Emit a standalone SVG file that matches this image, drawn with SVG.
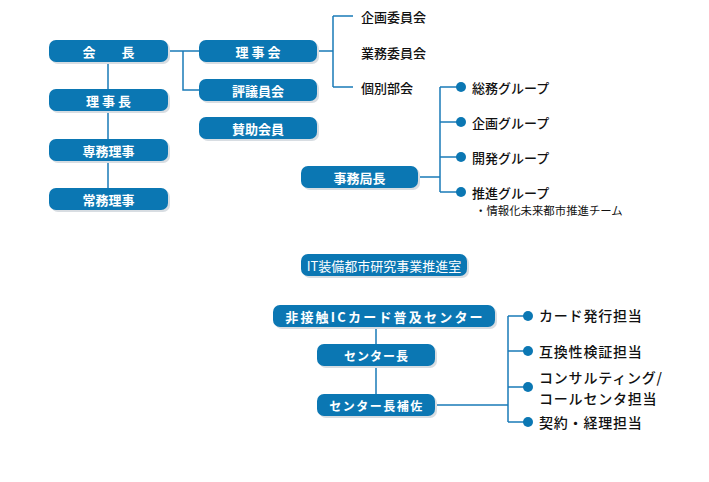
<svg xmlns="http://www.w3.org/2000/svg" width="709" height="482" viewBox="0 0 709 482">
<defs>
<style>
.sh{fill:#d8dde2}
.bx{fill:#0b77b3}
.bt{fill:#fff;font-family:"Noto Sans CJK JP","Noto Sans",sans-serif;font-size:13px;font-weight:bold;text-anchor:middle;dominant-baseline:central}
.lt{fill:#111;font-family:"Noto Sans CJK JP","Noto Sans",sans-serif;font-size:13px;font-weight:500;dominant-baseline:central}
.rt{fill:#111;font-family:"Noto Sans CJK JP","Noto Sans",sans-serif;font-size:14px;font-weight:500;dominant-baseline:central;letter-spacing:0.8px}
.st{fill:#111;font-family:"Noto Sans CJK JP","Noto Sans",sans-serif;font-size:11.4px;dominant-baseline:central}
.ln{stroke:#1a7bb8;stroke-width:1.5;fill:none}
.dt{fill:#0b77b3}
</style>
</defs>
<rect width="709" height="482" fill="#fff"/>
<g id="connectors">
<path class="ln" d="M108 62V188M168 51H199M183 51V90H199"/>
<path class="ln" d="M317 51H333M333 16V87M333 16H353M333 87H353"/>
<path class="ln" d="M418 177H440M440 87V192M440 87H461M440 122H461M440 157H461M440 192H461"/>
<path class="ln" d="M376 327V394M435 405H508M508 316V422M508 316H528M508 351H528M508 387H528M508 422H528"/>
<circle class="dt" cx="461" cy="87" r="5"/>
<circle class="dt" cx="461" cy="122" r="5"/>
<circle class="dt" cx="461" cy="157" r="5"/>
<circle class="dt" cx="461" cy="192" r="5"/>
<circle class="dt" cx="528" cy="316" r="5"/>
<circle class="dt" cx="528" cy="351" r="5"/>
<circle class="dt" cx="528" cy="387" r="5"/>
<circle class="dt" cx="528" cy="422" r="5"/>
</g>
<g id="kaicho"><rect class="sh" x="51" y="42" width="119" height="22" rx="7"/><rect class="bx" x="49" y="40" width="119" height="22" rx="7"/><text class="bt" x="108.5" y="51">会　　長</text></g>
<g id="rijicho"><rect class="sh" x="51" y="91" width="119" height="22" rx="7"/><rect class="bx" x="49" y="89" width="119" height="22" rx="7"/><text class="bt" x="108.5" y="100">理 事 長</text></g>
<g id="senmu"><rect class="sh" x="51" y="141" width="119" height="22" rx="7"/><rect class="bx" x="49" y="139" width="119" height="22" rx="7"/><text class="bt" x="108.5" y="150">専務理事</text></g>
<g id="jomu"><rect class="sh" x="51" y="190" width="119" height="22" rx="7"/><rect class="bx" x="49" y="188" width="119" height="22" rx="7"/><text class="bt" x="108.5" y="199">常務理事</text></g>
<g id="rijikai"><rect class="sh" x="201" y="42" width="118" height="22" rx="7"/><rect class="bx" x="199" y="40" width="118" height="22" rx="7"/><text class="bt" x="258" y="51">理 事 会</text></g>
<g id="hyogiinkai"><rect class="sh" x="201" y="81" width="118" height="22" rx="7"/><rect class="bx" x="199" y="79" width="118" height="22" rx="7"/><text class="bt" x="258" y="90">評議員会</text></g>
<g id="sanjo"><rect class="sh" x="201" y="119" width="118" height="22" rx="7"/><rect class="bx" x="199" y="117" width="118" height="22" rx="7"/><text class="bt" x="258" y="128">賛助会員</text></g>
<g id="iinkai">
<text class="lt" x="361" y="16">企画委員会</text>
<text class="lt" x="361" y="52">業務委員会</text>
<text class="lt" x="361" y="87">個別部会</text>
</g>
<g id="jimukyokucho"><rect class="sh" x="303" y="168" width="117" height="22" rx="7"/><rect class="bx" x="301" y="166" width="117" height="22" rx="7"/><text class="bt" x="359.5" y="177">事務局長</text></g>
<g id="groups">
<text class="lt" x="472" y="87">総務グループ</text>
<text class="lt" x="472" y="122">企画グループ</text>
<text class="lt" x="472" y="157">開発グループ</text>
<text class="lt" x="472" y="192">推進グループ</text>
<text class="st" x="475" y="210">・情報化未来都市推進チーム</text>
</g>
<g id="it"><rect class="sh" x="303" y="256" width="166" height="22" rx="7"/><rect class="bx" x="301" y="254" width="166" height="22" rx="7"/><text class="bt" x="384" y="265" style="font-weight:normal">IT装備都市研究事業推進室</text></g>
<g id="iccenter"><rect class="sh" x="275" y="307" width="222" height="22" rx="7"/><rect class="bx" x="273" y="305" width="222" height="22" rx="7"/><text class="bt" x="385" y="316" letter-spacing="2.2">非接触ICカード普及センター</text></g>
<g id="centercho"><rect class="sh" x="319" y="346" width="118" height="22" rx="7"/><rect class="bx" x="317" y="344" width="118" height="22" rx="7"/><text class="bt" x="376.5" y="355" style="font-size:12px" letter-spacing="1">センター長</text></g>
<g id="centerhosa"><rect class="sh" x="319" y="396" width="118" height="22" rx="7"/><rect class="bx" x="317" y="394" width="118" height="22" rx="7"/><text class="bt" x="376.5" y="405" style="font-size:12px" letter-spacing="1.5">センター長補佐</text></g>
<g id="tanto">
<text class="rt" x="539" y="315">カード発行担当</text>
<text class="rt" x="539" y="351">互換性検証担当</text>
<text class="rt" x="539" y="377">コンサルティング/</text>
<text class="rt" x="539" y="398">コールセンタ担当</text>
<text class="rt" x="539" y="422">契約・経理担当</text>
</g>
</svg>
